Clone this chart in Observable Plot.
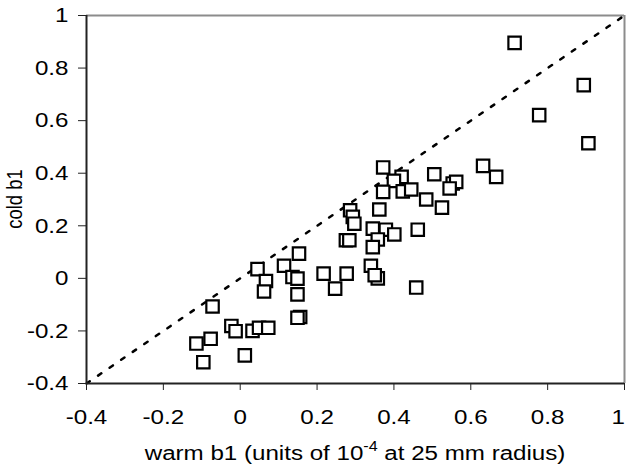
<!DOCTYPE html>
<html><head><meta charset="utf-8">
<script src="https://cdn.jsdelivr.net/npm/d3@7"></script>
<script src="https://cdn.jsdelivr.net/npm/@observablehq/plot@0.6"></script>
<style>body{margin:0;background:#fff;}</style>
</head><body><div id="chart"></div>
<script>
const warm = [0.714,0.894,0.778,0.906,0.632,0.666,0.553,0.562,
  0.372,0.420,0.400,0.505,0.545,0.372,0.423,0.445,0.484,0.525,0.362,0.286,0.293,0.297,0.462,0.345,0.379,0.401,0.275,0.284,0.358,0.345,
  0.153,0.045,0.114,0.136,0.149,0.067,0.062,0.149,0.217,0.277,0.247,0.458,0.340,0.358,0.350,-0.072,0.156,0.149,-0.023,-0.012,0.032,0.049,0.073,-0.077,-0.114,-0.096,0.012];
const cold = [0.896,0.735,0.621,0.514,0.428,0.386,0.361,0.367,
  0.422,0.386,0.371,0.396,0.342,0.329,0.331,0.338,0.300,0.269,0.262,0.259,0.234,0.208,0.185,0.189,0.185,0.167,0.145,0.145,0.148,0.119,
  0.094,0.035,0.048,0.005,-0.001,-0.010,-0.050,-0.061,0.018,0.018,-0.039,-0.035,0.048,0.000,0.012,-0.107,-0.147,-0.150,-0.181,-0.201,-0.200,-0.188,-0.188,-0.230,-0.248,-0.319,-0.293];
const xTicks = [-0.4,-0.2,0,0.2,0.4,0.6,0.8,1];
const yTicks = [-0.4,-0.2,0,0.2,0.4,0.6,0.8,1];
const tickLabels = ["-0.4","-0.2","0","0.2","0.4","0.6","0.8","1"];
const diagonal = [-0.4, 1];
const xTitleParts = ["warm b1 (units of 10", "-4", " at 25 mm radius)"];
const yTitle = "cold b1";

const points = warm.map((w, i) => ({warm: w, cold: cold[i]}));
const diag = diagonal.map(v => ({x: v, y: v}));
const fmt = d => tickLabels[xTicks.indexOf(d)];

const FONT = "'Liberation Sans', Arial, sans-serif";
const STRETCH = 1.15;
const plot = Plot.plot({
  width: 627, height: 469,
  marginLeft: 86, marginRight: 3, marginTop: 15, marginBottom: 86,
  style: {fontFamily: FONT, fontSize: "21px", color: "#000", background: "#fff", overflow: "visible"},
  x: {domain: [-0.4, 1]},
  y: {domain: [-0.4, 1]},
  marks: [
    Plot.ruleY([1], {stroke: "#8c8c8c", strokeWidth: 2}),
    Plot.ruleX([1], {stroke: "#8c8c8c", strokeWidth: 2}),
    Plot.line(diag, {x: "x", y: "y", stroke: "#000", strokeWidth: 2.5, strokeDasharray: "4,10"}),
    Plot.dot(points, {x: "warm", y: "cold", symbol: "square", r: 7, stroke: "#000", strokeWidth: 2.2, fill: "#fff"}),
    Plot.ruleX([-0.4], {stroke: "#222", strokeWidth: 2}),
    Plot.ruleY([-0.4], {stroke: "#222", strokeWidth: 2}),
    Plot.axisX({ticks: xTicks, tickFormat: fmt, tickSize: 7, tickPadding: 19, label: null, stroke: "#222"}),
    Plot.axisY({ticks: yTicks, tickFormat: fmt, tickSize: 8, tickPadding: 10, label: null, stroke: "#222"})
  ]
});
document.getElementById("chart").appendChild(plot);

const svg = d3.select(plot);
const xt = svg.append("text")
  .attr("x", 355).attr("y", 460)
  .attr("text-anchor", "middle")
  .attr("font-family", FONT).attr("font-size", 21).attr("fill", "#000");
xt.append("tspan").text(xTitleParts[0]);
xt.append("tspan").attr("font-size", 14).attr("dy", -9).text(xTitleParts[1]);
xt.append("tspan").attr("dy", 9).text(xTitleParts[2]);

// stretch horizontal texts slightly to match the reference's wide glyphs
svg.selectAll("text").each(function() {
  const b = this.getBBox();
  const anchor = getComputedStyle(this).textAnchor;
  const ax = anchor === "end" ? b.x + b.width : anchor === "middle" ? b.x + b.width / 2 : b.x;
  const prev = this.getAttribute("transform") || "";
  let shift = 0;
  if (this.textContent === "1" && anchor === "middle" && this.getBoundingClientRect().right > 620) {
    shift = -(this.getBoundingClientRect().right * 1 - 626) - 2;
  }
  this.setAttribute("transform", `${prev} translate(${ax + shift},0) scale(${STRETCH},1) translate(${-ax},0)`);
});

const yg = svg.append("g")
  .attr("transform", `translate(15,199) scale(${STRETCH},1)`);
yg.append("text")
  .attr("transform", "rotate(-90)")
  .attr("dy", "0.35em")
  .attr("text-anchor", "middle")
  .attr("font-family", FONT).attr("font-size", 18.5).attr("fill", "#000")
  .text(yTitle);
</script>
</body></html>
